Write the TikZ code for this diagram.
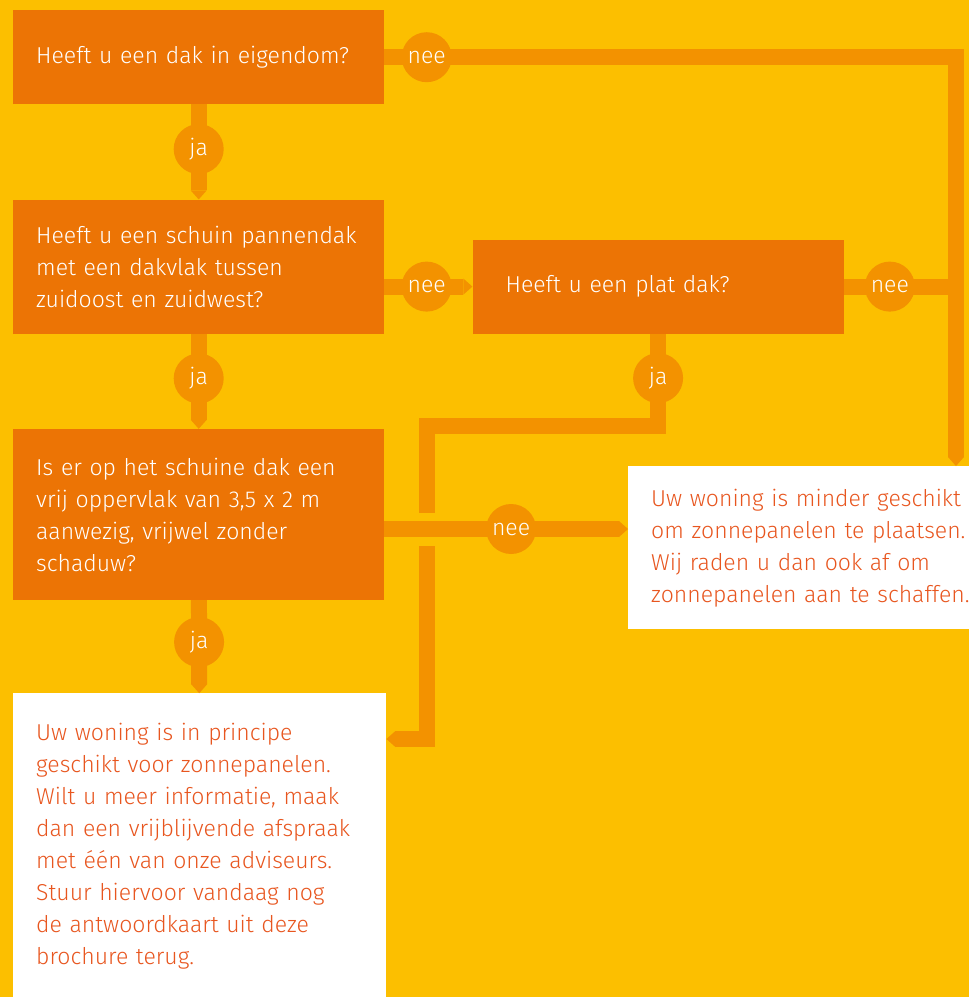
\documentclass[tikz,border=0pt]{standalone}
\usepackage{fontspec}
\setmainfont{Fira Sans Light}
\usetikzlibrary{positioning,arrows.meta}
\definecolor{bgyellow}{HTML}{FCBF00}
\definecolor{boxorange}{HTML}{EC7405}
\definecolor{linkorange}{HTML}{F39200}
\definecolor{advicetext}{HTML}{E8561F}

\begin{document}
\begin{tikzpicture}[
    font=\fontsize{23}{32}\selectfont,
    question/.style={fill=boxorange, text=white, align=left,
        text width=325pt, inner xsep=23pt, inner ysep=0pt, minimum width=371pt},
    advice/.style={question, fill=white, text=advicetext},
    link/.style={line width=16pt, draw=linkorange},
    arrow/.style={link, -{Triangle[width=16pt,length=9pt,line width=0pt]}},
    tag/.style={circle, fill=linkorange, text=white, minimum size=50pt, inner sep=0pt}
]
% Background
\fill[bgyellow] (0,0) rectangle (969pt,-997pt);
\useasboundingbox (0,0) rectangle (969pt,-997pt);

% Ownership
\node[question,
    minimum height=94pt,
    anchor=north west] (eigendom) at (13pt,-10pt) {Heeft u een dak in eigendom?};

% Pitched roof
\node[question,
    minimum height=134pt,
    below= 95pt of eigendom
] (schuin) {Heeft u een schuin pannendak\\ met een dakvlak tussen\\ zuidoost en zuidwest?};

% Flat roof
\node[question,
    minimum height=94pt,
    inner xsep=33pt, text width=305pt,
    right= 88pt of schuin.south east,
    anchor=south west
] (plat) {Heeft u een plat dak?};

% Free surface
\node[question,
    minimum height=171pt,
    below= 95pt of schuin
] (vrij) {Is er op het schuine dak een\\ vrij oppervlak van 3,5 x 2 m\\ aanwezig, vrijwel zonder\\ schaduw?};

% Suitable
\node[advice,
    minimum height=305pt,
    minimum width=373pt, text width=327pt,
    below= 93pt of vrij.south west,
    anchor=north west
] (geschikt) {Uw woning is in principe\\ geschikt voor zonnepanelen.\\ Wilt u meer informatie, maak\\ dan een vrijblijvende afspraak\\ met één van onze adviseurs.\\ Stuur hiervoor vandaag nog\\ de antwoordkaart uit deze\\ brochure terug.};

% Not suitable
\node[advice,
    minimum height=163pt,
    anchor=north west] (ongeschikt) at (628pt,-466pt) {Uw woning is minder geschikt\\ om zonnepanelen te plaatsen.\\ Wij raden u dan ook af om\\ zonnepanelen aan te schaffen.};

% Bends
\coordinate (rail) at ([xshift=328pt]ongeschikt.north west);
\coordinate (top) at (427pt,-426pt);
\coordinate (cross) at (427pt,-529pt);
\coordinate (foot) at (427pt,-739pt);

% Arrows
\draw[arrow] (eigendom.east) -| (rail)
    node[tag,pos=0.037]{nee};
\draw[arrow] (eigendom) -- (schuin)
    node[tag,pos=0.47]{ja};
\draw[arrow] (plat.west -| schuin.east) -- (plat.west)
    node[tag,pos=0.48]{nee};
\draw[link] (plat.east) -- (plat.east -| rail)
    node[tag,pos=0.41]{nee};
\draw[arrow] (schuin) -- (vrij)
    node[tag,pos=0.47]{ja};
\draw[link] (plat.south) |- node[tag,pos=0.24]{ja} (top)
    -- ([yshift=16pt]cross);
\draw[arrow] ([yshift=-17pt]cross) -- (foot) -- (geschikt.east |- foot);
\draw[arrow] (vrij.east |- cross) -- (ongeschikt.west |- cross)
    node[tag,pos=0.52]{nee};
\draw[arrow] (vrij) -- (geschikt)
    node[tag,pos=0.45]{ja};

\end{tikzpicture}
\end{document}
